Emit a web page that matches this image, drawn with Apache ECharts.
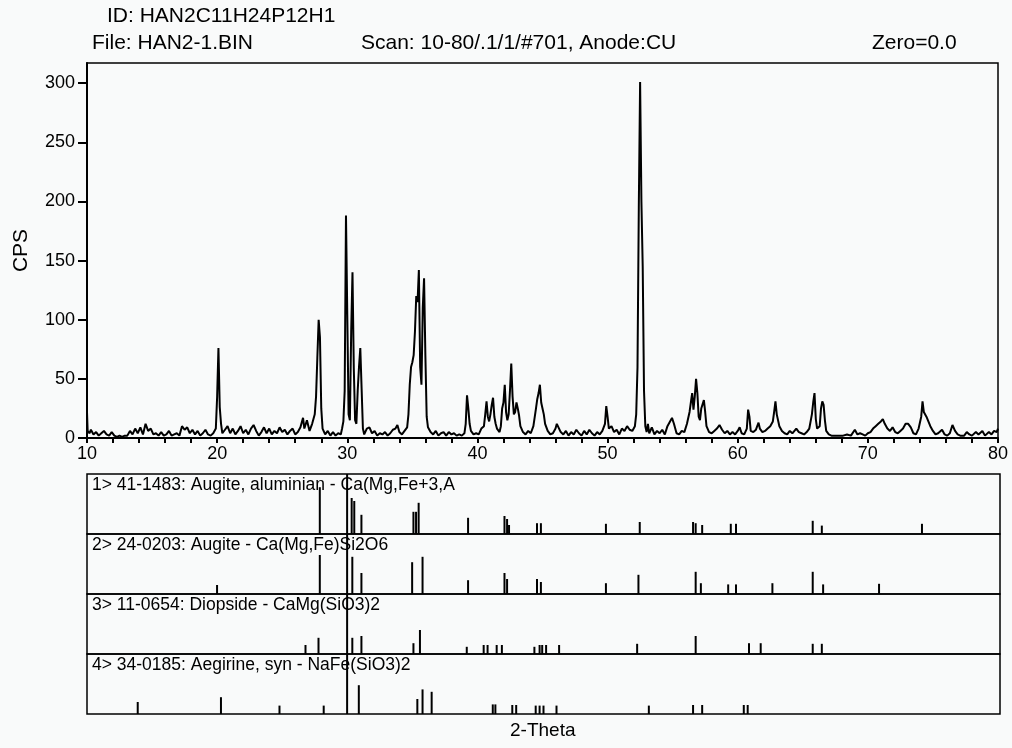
<!DOCTYPE html>
<html>
<head>
<meta charset="utf-8">
<script src="https://cdn.jsdelivr.net/npm/echarts@6/dist/echarts.min.js"></script>
<style>
  html, body { margin: 0; padding: 0; background: #f9fafa; }
  #chart { width: 1012px; height: 748px; }
</style>
</head>
<body>
<div id="chart"></div>
<script>
// measured scan, [2-theta, cps]
const scan = [
  [10.0,22],[10.05,6],[10.2,4],[10.3,7],[10.5,3],[10.7,5],[10.9,2],[11.1,4],[11.3,6],[11.5,3],[11.7,2],[11.9,5],
  [12.1,2],[12.3,1],[12.5,2],[12.7,1],[12.9,2],[13.1,2],[13.3,6],[13.5,3],[13.7,8],[13.9,4],[14.1,9],[14.3,3],
  [14.5,12],[14.7,6],[14.9,8],[15.1,3],[15.3,4],[15.5,2],[15.7,5],[15.9,2],[16.1,3],[16.3,6],[16.5,2],[16.7,3],
  [16.9,4],[17.1,2],[17.3,10],[17.5,7],[17.7,9],[17.9,4],[18.1,7],[18.3,3],[18.5,6],[18.7,2],[18.9,4],[19.1,7],
  [19.3,3],[19.5,2],[19.7,4],[19.9,8],[20.0,35],[20.1,76],[20.2,26],[20.3,12],[20.4,4],[20.6,7],[20.8,10],[21.0,4],
  [21.2,8],[21.4,3],[21.6,6],[21.8,10],[22.0,4],[22.2,7],[22.4,3],[22.6,8],[22.8,11],[23.0,6],[23.2,2],[23.4,5],
  [23.6,9],[23.8,4],[24.0,8],[24.2,3],[24.4,6],[24.6,4],[24.8,9],[25.0,5],[25.2,7],[25.4,3],[25.6,6],[25.8,8],
  [26.0,3],[26.2,5],[26.4,9],[26.6,17],[26.7,8],[26.9,15],[27.1,6],[27.3,12],[27.5,20],[27.6,35],[27.7,68],[27.8,100],
  [27.9,85],[28.0,25],[28.1,8],[28.3,3],[28.5,6],[28.7,2],[28.9,5],[29.1,2],[29.3,4],[29.5,3],[29.6,8],[29.7,14],
  [29.8,40],[29.9,188],[30.0,104],[30.1,20],[30.2,15],[30.3,90],[30.4,140],[30.5,59],[30.6,15],[30.7,12],[30.8,40],[30.9,60],
  [31.0,76],[31.1,42],[31.2,8],[31.3,3],[31.5,8],[31.7,9],[31.9,4],[32.1,6],[32.3,2],[32.5,4],[32.7,3],[32.9,5],
  [33.1,2],[33.3,4],[33.5,7],[33.7,8],[33.85,11],[34.0,5],[34.2,3],[34.4,6],[34.6,9],[34.7,20],[34.8,45],[34.9,60],
  [35.0,64],[35.1,70],[35.2,90],[35.3,120],[35.4,115],[35.5,142],[35.6,60],[35.7,45],[35.8,110],[35.9,135],[36.0,70],[36.1,18],
  [36.2,9],[36.4,5],[36.6,3],[36.8,6],[37.0,2],[37.2,4],[37.4,5],[37.6,2],[37.8,5],[38.0,3],[38.2,4],[38.4,2],
  [38.6,3],[38.8,2],[39.0,4],[39.1,12],[39.2,36],[39.3,25],[39.4,12],[39.5,6],[39.7,3],[39.9,4],[40.1,3],[40.3,8],
  [40.5,10],[40.6,20],[40.7,31],[40.8,18],[40.9,14],[41.0,20],[41.1,28],[41.2,34],[41.3,18],[41.4,12],[41.5,8],[41.7,5],
  [41.8,10],[41.9,25],[42.0,30],[42.1,45],[42.2,22],[42.3,15],[42.4,20],[42.5,40],[42.6,63],[42.7,35],[42.8,20],[42.9,22],
  [43.0,30],[43.1,25],[43.2,19],[43.3,10],[43.5,5],[43.7,3],[43.9,6],[44.1,4],[44.3,10],[44.5,25],[44.6,33],[44.7,38],
  [44.8,45],[44.9,30],[45.0,25],[45.1,20],[45.2,12],[45.4,6],[45.6,3],[45.8,4],[46.0,8],[46.1,12],[46.2,11],[46.4,5],
  [46.6,3],[46.8,6],[47.0,2],[47.2,5],[47.4,3],[47.6,7],[47.8,4],[48.0,2],[48.2,6],[48.4,3],[48.6,7],[48.8,4],
  [49.0,2],[49.2,5],[49.4,3],[49.6,6],[49.8,12],[49.9,27],[50.0,18],[50.1,8],[50.3,10],[50.5,5],[50.7,7],[50.9,3],
  [51.1,8],[51.3,6],[51.5,10],[51.7,7],[51.9,6],[52.1,10],[52.2,20],[52.3,60],[52.4,195],[52.5,301],[52.6,200],[52.7,145],
  [52.8,40],[52.9,10],[53.0,5],[53.1,12],[53.2,4],[53.4,9],[53.6,3],[53.8,6],[54.0,4],[54.2,7],[54.4,3],[54.6,10],
  [54.8,14],[54.95,17],[55.1,12],[55.3,4],[55.5,3],[55.7,6],[55.9,5],[56.1,12],[56.3,22],[56.4,30],[56.5,38],[56.6,24],
  [56.7,35],[56.8,50],[56.9,38],[57.0,18],[57.1,15],[57.2,25],[57.4,32],[57.5,22],[57.6,10],[57.8,5],[58.0,4],[58.2,6],
  [58.4,8],[58.6,11],[58.8,7],[59.0,4],[59.2,6],[59.4,3],[59.6,5],[59.8,3],[60.0,6],[60.15,9],[60.3,4],[60.5,3],
  [60.7,8],[60.8,24],[60.9,18],[61.0,6],[61.2,5],[61.4,7],[61.6,13],[61.7,8],[61.9,5],[62.1,6],[62.3,8],[62.5,10],
  [62.7,14],[62.8,22],[62.9,31],[63.0,20],[63.2,10],[63.4,6],[63.6,4],[63.8,3],[64.0,6],[64.2,4],[64.5,8],[64.7,5],
  [64.9,4],[65.1,3],[65.3,5],[65.5,8],[65.7,20],[65.8,30],[65.9,38],[66.0,16],[66.1,8],[66.3,10],[66.4,25],[66.5,31],
  [66.6,28],[66.7,15],[66.8,6],[67.0,3],[67.2,2],[67.5,2],[67.8,2],[68.1,2],[68.4,3],[68.7,2],[69.0,7],[69.2,3],
  [69.4,4],[69.6,3],[69.8,2],[70.0,4],[70.2,5],[70.4,8],[70.6,10],[70.8,12],[71.0,14],[71.15,16],[71.3,12],[71.5,8],
  [71.7,6],[71.9,9],[72.1,5],[72.3,4],[72.5,6],[72.7,8],[72.9,12],[73.1,12],[73.3,9],[73.5,4],[73.7,3],[73.9,8],
  [74.1,18],[74.2,31],[74.3,22],[74.5,18],[74.6,17],[74.8,10],[75.0,6],[75.2,3],[75.4,4],[75.7,7],[75.9,3],[76.1,2],
  [76.3,4],[76.5,11],[76.7,6],[76.9,3],[77.1,2],[77.4,2],[77.6,5],[77.8,3],[78.0,2],[78.3,5],[78.5,3],[78.8,6],
  [79.0,2],[79.3,5],[79.5,3],[79.7,6],[79.9,5],[80.0,8]
];

// reference patterns, [2-theta, relative intensity %]
const augiteAl = [
  [27.9,78],[30.0,100],[30.35,60],[30.55,55],[31.1,32],[35.1,37],[35.3,37],[35.5,52],[39.3,27],[42.1,30],
  [42.3,25],[42.45,15],[44.6,18],[44.9,18],[49.9,17],[52.5,20],[56.6,20],[56.8,18],[57.3,15],[59.5,17],
  [59.9,17],[65.8,22],[66.5,14],[74.2,17]
];
const augite = [
  [20.0,15],[27.9,65],[30.0,100],[30.4,62],[31.1,35],[35.0,53],[35.8,62],[39.3,23],[42.1,35],[42.3,25],
  [44.6,25],[44.9,20],[49.9,18],[52.4,32],[56.8,37],[57.2,18],[59.3,16],[59.9,16],[62.7,18],[65.8,37],
  [66.6,16],[70.9,17]
];
const diopside = [
  [26.8,15],[27.8,27],[30.0,100],[30.4,27],[31.1,30],[35.1,18],[35.6,40],[39.2,12],[40.5,15],[40.8,15],
  [41.5,15],[41.9,15],[44.4,12],[44.8,15],[45.0,15],[45.3,15],[46.3,15],[52.3,17],[56.8,30],[60.9,18],
  [61.8,18],[65.8,17],[66.5,17]
];
const aegirine = [
  [13.9,20],[20.3,28],[24.8,14],[28.2,14],[30.0,100],[30.9,48],[35.4,25],[35.8,41],[36.5,37],[41.2,16],
  [41.4,16],[42.7,15],[43.0,15],[44.5,14],[44.8,14],[45.1,14],[46.1,14],[53.2,14],[56.6,15],[57.3,15],
  [60.5,15],[60.8,15]
];
const panelLabels = [
  '1> 41-1483: Augite, aluminian - Ca(Mg,Fe+3,A',
  '2> 24-0203: Augite - Ca(Mg,Fe)Si2O6',
  '3> 11-0654: Diopside - CaMg(SiO3)2',
  '4> 34-0185: Aegirine, syn - NaFe(SiO3)2'
];
const headerLines = [
  { text: 'ID: HAN2C11H24P12H1', x: 107, y: 6 },
  { text: 'File: HAN2-1.BIN', x: 92, y: 33 },
  { text: 'Scan: 10-80/.1/1/#701, Anode:CU', x: 361, y: 33 },
  { text: 'Zero=0.0', x: 872, y: 33 }
];
const yTicks = [0, 50, 100, 150, 200, 250, 300];
const xLabels = [10, 20, 30, 40, 50, 60, 70, 80];

const FONT = 'Liberation Sans';
const INK = '#000';
const PLOT_LEFT = 87;
const PLOT_WIDTH = 911;
const panelTops = [474, 534, 594, 654];
const PANEL_H = 60;
const patterns = [augiteAl, augite, diopside, aegirine];

const chart = echarts.init(document.getElementById('chart'), null, { renderer: 'canvas' });

function stickItem(params, api) {
  const base = api.coord([api.value(0), 0]);
  const top = api.coord([api.value(0), api.value(1)]);
  return {
    type: 'line',
    shape: { x1: base[0], y1: base[1], x2: top[0], y2: top[1] },
    style: { stroke: INK, lineWidth: 2 }
  };
}

const grids = [{ left: PLOT_LEFT, top: 63, width: PLOT_WIDTH, height: 375, show: true, borderColor: INK, borderWidth: 1.5, backgroundColor: 'transparent' }];
const xAxes = [{
  type: 'value', gridIndex: 0, min: 10, max: 80, interval: 2,
  axisLine: { lineStyle: { color: INK, width: 2 } },
  axisTick: { show: true, inside: false, length: 5, lineStyle: { color: INK, width: 2 } },
  axisLabel: {
    color: INK, fontFamily: FONT, fontSize: 18, margin: 7,
    formatter: v => (xLabels.indexOf(v) >= 0 ? String(v) : '')
  },
  splitLine: { show: false }
}];
const yAxes = [{
  type: 'value', gridIndex: 0, min: 0, max: 317, interval: 50,
  name: 'CPS', nameLocation: 'middle', nameRotate: 90, nameGap: 55,
  nameTextStyle: { color: INK, fontFamily: FONT, fontSize: 21 },
  axisLine: { show: true, lineStyle: { color: INK, width: 2 } },
  axisTick: { show: true, inside: false, length: 9, lineStyle: { color: INK, width: 2 } },
  axisLabel: {
    color: INK, fontFamily: FONT, fontSize: 18, margin: 12, showMaxLabel: false,
    formatter: v => (yTicks.indexOf(v) >= 0 ? String(v) : '')
  },
  splitLine: { show: false }
}];
const series = [{
  type: 'line', xAxisIndex: 0, yAxisIndex: 0, data: scan,
  showSymbol: false, symbol: 'none', animation: false,
  lineStyle: { color: INK, width: 2 }
}];

patterns.forEach((pat, i) => {
  const gi = i + 1;
  grids.push({
    left: PLOT_LEFT, top: panelTops[i], width: PLOT_WIDTH + 2, height: PANEL_H,
    show: true, borderColor: INK, borderWidth: 1.5, backgroundColor: 'transparent'
  });
  xAxes.push({ type: 'value', gridIndex: gi, min: 10, max: 80.2, show: false });
  yAxes.push({ type: 'value', gridIndex: gi, min: 0, max: 100, show: false });
  series.push({
    type: 'custom', xAxisIndex: gi, yAxisIndex: gi, data: pat,
    renderItem: stickItem, animation: false, silent: true
  });
});

const graphics = headerLines.map(h => ({
  type: 'text', left: h.x, top: h.y,
  style: { text: h.text, fill: INK, font: '21px "' + FONT + '"' }
}));
panelLabels.forEach((t, i) => {
  graphics.push({
    type: 'text', left: 92, top: panelTops[i] + 2, z: 10,
    style: { text: t, fill: INK, font: '17.5px "' + FONT + '"' }
  });
});
graphics.push({
  type: 'text', left: 510, top: 721,
  style: { text: '2-Theta', fill: INK, font: '19px "' + FONT + '"' }
});

chart.setOption({
  backgroundColor: '#f9fafa',
  animation: false,
  grid: grids,
  xAxis: xAxes,
  yAxis: yAxes,
  series: series,
  graphic: graphics
});
</script>
</body>
</html>
